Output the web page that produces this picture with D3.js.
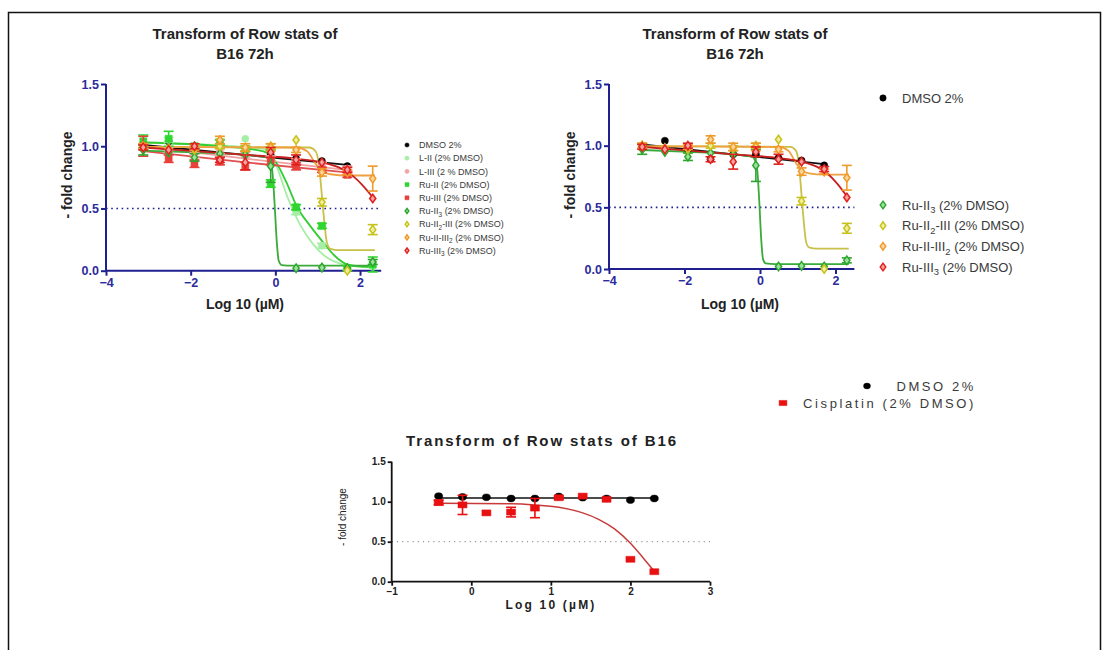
<!DOCTYPE html>
<html>
<head>
<meta charset="utf-8">
<script src="https://cdn.jsdelivr.net/npm/d3@7"></script>
<style>
  body { margin: 0; background: #fff; }
  svg { display: block; font-family: "Liberation Sans", Arial, sans-serif; }
</style>
</head>
<body>
<svg id="fig" width="1109" height="650"></svg>
<script>
// ---- concentrations, log10(µM) ----
const dose72 = [-3.12, -2.52, -1.91, -1.31, -0.71, -0.11, 0.49, 1.10, 1.70, 2.30];
const doseCis = [-0.41, -0.11, 0.19, 0.50, 0.80, 1.10, 1.40, 1.70, 2.00, 2.30];

// ---- B16 72h : mean fold change and SD ----
const dmsoMean  = [1.00, 1.04, 0.97, 0.89, 0.93, 0.93, 0.90, 0.88, 0.84];
const dmsoSD    = [0.01, 0.01, 0.01, 0.01, 0.01, 0.01, 0.01, 0.01, 0.01];
const lIIMean   = [1.00, 1.05, 1.00, 1.04, 1.06, 0.90, 0.47, 0.20, 0.02, 0.03];
const lIISD     = [0.02, 0.02, 0.02, 0.02, 0.01, 0.02, 0.02, 0.02, 0.01, 0.01];
const lIIIMean  = [1.00, 0.97, 0.93, 0.96, 0.93, 0.90, 0.88, 0.85, 0.82];
const lIIISD    = [0.02, 0.02, 0.02, 0.02, 0.02, 0.02, 0.02, 0.02, 0.02];
const ruIIMean  = [1.04, 1.06, 1.00, 1.03, 0.98, 0.70, 0.51, 0.36, 0.02, 0.05];
const ruIISD    = [0.05, 0.06, 0.02, 0.02, 0.02, 0.03, 0.02, 0.02, 0.02, 0.06];
const ruIIIMean = [1.00, 0.90, 0.86, 0.88, 0.84, 0.88, 0.84, 0.81, 0.77];
const ruIIISD   = [0.08, 0.03, 0.03, 0.03, 0.03, 0.03, 0.03, 0.02, 0.02];
const ruII3Mean = [0.97, 0.95, 0.91, 0.94, 0.93, 0.84, 0.02, 0.025, 0.02, 0.07];
const ruII3SD   = [0.04, 0.01, 0.03, 0.01, 0.01, 0.13, 0.01, 0.01, 0.01, 0.02];
const ruII2IIIMean = [1.00, 0.98, 0.97, 1.00, 0.98, 1.00, 1.05, 0.55, 0.00, 0.33];
const ruII2IIISD   = [0.02, 0.01, 0.01, 0.02, 0.02, 0.02, 0.01, 0.03, 0.01, 0.04];
const ruIIIII2Mean = [1.00, 0.98, 0.99, 1.05, 0.99, 0.99, 0.97, 0.79, 0.79, 0.74];
const ruIIIII2SD   = [0.02, 0.01, 0.02, 0.03, 0.03, 0.03, 0.02, 0.03, 0.02, 0.10];
const ruIII3Mean = [0.99, 0.97, 1.00, 0.89, 0.87, 0.95, 0.89, 0.87, 0.81, 0.58];
const ruIII3SD   = [0.02, 0.01, 0.02, 0.02, 0.06, 0.04, 0.04, 0.01, 0.02, 0.01];

// ---- fitted curves, [log10 µM, fold change] ----
const fitDmso   = [[-3.12, 1.01], [-0.7, 0.93], [1.7, 0.85]];
const fitLII    = [[-3.12, 1.03], [-0.3, 0.98], [0.0, 0.86], [0.3, 0.58], [0.6, 0.36], [0.9, 0.21], [1.2, 0.11], [1.6, 0.05], [2.0, 0.03], [2.3, 0.025]];
const fitLIII   = [[-3.12, 1.00], [-0.7, 0.90], [1.7, 0.81]];
const fitRuII   = [[-3.12, 1.03], [-1.3, 1.00], [-0.3, 0.96], [0.0, 0.88], [0.3, 0.68], [0.5, 0.52], [0.8, 0.37], [1.1, 0.24], [1.4, 0.12], [1.7, 0.05], [2.0, 0.035], [2.3, 0.03]];
const fitRuIII  = [[-3.12, 0.96], [-0.7, 0.87], [1.7, 0.79]];
const fitRuII3  = [[-3.12, 0.965], [-1.9, 0.95], [-0.7, 0.93], [-0.2, 0.91], [-0.08, 0.82], [-0.02, 0.55], [0.03, 0.25], [0.08, 0.08], [0.15, 0.045], [0.4, 0.04], [2.35, 0.04]];
const fitRuII2III = [[-3.12, 0.995], [0.8, 0.99], [0.95, 0.96], [1.03, 0.85], [1.1, 0.6], [1.16, 0.38], [1.22, 0.22], [1.3, 0.175], [1.5, 0.165], [2.35, 0.165]];
const fitRuIIIII2 = [[-3.12, 0.995], [0.5, 0.99], [0.75, 0.96], [0.95, 0.86], [1.1, 0.80], [1.3, 0.775], [1.7, 0.765], [2.35, 0.765]];
const fitRuIII3 = [[-3.12, 0.99], [-1.9, 0.96], [-0.7, 0.93], [0.5, 0.90], [1.1, 0.87], [1.5, 0.83], [1.8, 0.77], [2.05, 0.69], [2.3, 0.59]];

// ---- B16 cisplatin ----
const cisDmsoMean = [1.07, 1.06, 1.055, 1.04, 1.04, 1.065, 1.05, 1.04, 1.02, 1.04];
const cisMean = [0.99, 0.96, 0.86, 0.87, 0.92, 1.05, 1.07, 1.03, 0.28, 0.125];
const cisSD   = [0.03, 0.12, 0.01, 0.06, 0.12, 0.02, 0.01, 0.01, 0.01, 0.01];
const fitCisDmso = [[-0.41, 1.047], [2.30, 1.047]];
const fitCis = [[-0.41, 0.98], [0.5, 0.975], [0.8, 0.96], [1.1, 0.93], [1.4, 0.86], [1.6, 0.78], [1.8, 0.66], [2.0, 0.48], [2.15, 0.31], [2.3, 0.13]];

// ---- labels ----
const yTicks = [0, 0.5, 1.0, 1.5];
const xTicks72 = [-4, -2, 0, 2];
const xTicksCis = [-1, 0, 1, 2, 3];
const title72 = ["Transform of Row stats of", "B16 72h"];
const titleCis = "Transform of Row stats of B16";
const yLabel = "- fold change";
const xLabel = "Log 10 (\u00b5M)";

const names72 = ["DMSO 2%", "L-II (2% DMSO)", "L-III (2 % DMSO)", "Ru-II (2% DMSO)", "Ru-III (2% DMSO)",
                 "Ru-II_3 (2% DMSO)", "Ru-II_2-III (2% DMSO)", "Ru-II-III_2 (2% DMSO)", "Ru-III_3 (2% DMSO)"];
const namesCis = ["DMSO 2%", "Cisplatin (2% DMSO)"];

function mk(name, x, mean, sd, fit, shape, stroke, fill, line) {
  return { name, pts: mean.map((v, i) => ({ x: x[i], y: v, e: sd ? sd[i] : 0 })), fit, shape, stroke, fill, line };
}

const s72 = [
  mk(names72[0], dose72, dmsoMean, dmsoSD, fitDmso, "circle", "#000", "#000", "#111"),
  mk(names72[1], dose72, lIIMean, lIISD, fitLII, "circle", "#a6eea6", "#a6eea6", "#a6eea6"),
  mk(names72[2], dose72, lIIIMean, lIIISD, fitLIII, "circle", "#f3a3a3", "#f3a3a3", "#f0a0a0"),
  mk(names72[3], dose72, ruIIMean, ruIISD, fitRuII, "square", "#2fd62f", "#2fd62f", "#33cc33"),
  mk(names72[4], dose72, ruIIIMean, ruIIISD, fitRuIII, "square", "#e8403a", "#e8403a", "#e05050"),
  mk(names72[5], dose72, ruII3Mean, ruII3SD, fitRuII3, "diamond", "#2ea52e", "#9be39b", "#3aaa3a"),
  mk(names72[6], dose72, ruII2IIIMean, ruII2IIISD, fitRuII2III, "diamond", "#c6c21c", "#f2ee9a", "#c8c048"),
  mk(names72[7], dose72, ruIIIII2Mean, ruIIIII2SD, fitRuIIIII2, "diamond", "#f09a2a", "#fbd49a", "#f0a040"),
  mk(names72[8], dose72, ruIII3Mean, ruIII3SD, fitRuIII3, "diamond", "#e0201e", "#f6a0a0", "#c82020")
];
const s72b = [s72[0], s72[5], s72[6], s72[7], s72[8]];
const sCis = [
  mk(namesCis[0], doseCis, cisDmsoMean, null, fitCisDmso, "dot", "#000", "#000", "#111"),
  mk(namesCis[1], doseCis, cisMean, cisSD, fitCis, "bar", "#e81010", "#e81010", "#c83a3a")
];

const svg = d3.select("#fig");

// outer frame
svg.append("path").attr("d", "M8.5,660 V12.5 H1100.5 V660").attr("fill", "none").attr("stroke", "#111").attr("stroke-width", 1.5);

// marker outline for each shape; "dot" and "bar" are the wide marks of the cisplatin panel
function symbolPath(shape, size) {
  if (shape === "dot") { const r = Math.sqrt(size / Math.PI); return `M${-r * 1.2},0A${r * 1.2},${r} 0 1,0 ${r * 1.2},0A${r * 1.2},${r} 0 1,0 ${-r * 1.2},0Z`; }
  if (shape === "bar") { const h = Math.sqrt(size / 1.5) / 2; const w = h * 1.5; return `M${-w},${-h}H${w}V${h}H${-w}Z`; }
  if (shape === "diamond") { const h = Math.sqrt(size) * 0.62, w = h * 0.72; return `M0,${-h}L${w},0L0,${h}L${-w},0Z`; }
  const t = shape === "circle" ? d3.symbolCircle : d3.symbolSquare;
  return d3.symbol().type(t).size(size)();
}

// label text where "_n" is written as a subscript
function addLabel(sel, text, fs) {
  const parts = text.split(/_(\d)/);
  let shift = 0;
  parts.forEach((p, i) => {
    if (p === "") return;
    const sub = i % 2 === 1;
    const target = sub ? fs * 0.3 : 0;
    const ts = sel.append("tspan").text(p).attr("dy", target - shift);
    if (sub) ts.attr("font-size", fs * 0.72);
    shift = target;
  });
}

function panel(cfg) {
  const g = svg.append("g");
  const x = d3.scaleLinear().domain(cfg.xDom).range(cfg.xR);
  const y = d3.scaleLinear().domain([0, 1.5]).range(cfg.yR);

  // reference line at half response
  g.append("line").attr("x1", cfg.xR[0]).attr("x2", cfg.xR[1]).attr("y1", y(0.5)).attr("y2", y(0.5))
    .attr("stroke", cfg.refColor).attr("stroke-width", cfg.refW).attr("stroke-dasharray", cfg.refDash);

  // axes
  const yAx = g.append("g").attr("transform", `translate(${cfg.xR[0]},0)`)
    .call(d3.axisLeft(y).tickValues(yTicks).tickFormat(d3.format(".1f")).tickSize(cfg.tick).tickSizeOuter(0).tickPadding(2));
  const xAx = g.append("g").attr("transform", `translate(0,${cfg.yR[0]})`)
    .call(d3.axisBottom(x).tickValues(cfg.xTicks).tickFormat(d3.format("d")).tickSize(cfg.tick).tickSizeOuter(0).tickPadding(2));
  [yAx, xAx].forEach(a => {
    a.select(".domain").attr("stroke", cfg.axColor).attr("stroke-width", cfg.axW);
    a.selectAll(".tick line").attr("stroke", cfg.axColor).attr("stroke-width", cfg.axW);
    a.selectAll(".tick text").attr("fill", cfg.tickColor).attr("font-size", cfg.tickFs)
      .attr("font-weight", "bold").attr("font-family", "Liberation Sans, Arial, sans-serif");
  });
  yAx.select(".domain").attr("d", `M0,${cfg.yR[0]}V${cfg.yR[1]}`);
  xAx.select(".domain").attr("d", `M${cfg.xR[0]},0H${cfg.xR[1]}`);

  // titles
  const tt = g.append("text").attr("text-anchor", "middle").attr("font-weight", "bold")
    .attr("font-size", cfg.titleFs).attr("fill", "#222").attr("letter-spacing", cfg.titleLs || 0);
  cfg.title.forEach((t, i) => tt.append("tspan").attr("x", cfg.titleX).attr("y", cfg.titleY + i * cfg.titleLh).text(t));
  g.append("text").attr("text-anchor", "middle").attr("font-weight", "bold").attr("font-size", cfg.xlFs)
    .attr("letter-spacing", cfg.xlLs || 0).attr("fill", "#222")
    .attr("x", cfg.xlX).attr("y", cfg.xlY).text(xLabel);
  g.append("text").attr("text-anchor", "middle").attr("font-weight", cfg.ylW).attr("font-size", cfg.ylFs)
    .attr("fill", "#222").attr("transform", `translate(${cfg.ylX},${cfg.ylY}) rotate(-90)`).text(yLabel);

  const line = d3.line().x(d => x(d[0])).y(d => y(d[1])).curve(d3.curveMonotoneX);

  cfg.series.forEach(s => {
    g.append("path").attr("d", line(s.fit)).attr("fill", "none").attr("stroke", s.line).attr("stroke-width", cfg.lineW);
  });
  cfg.series.forEach(s => {
    const eb = g.append("g").attr("stroke", s.stroke).attr("stroke-width", cfg.ebW);
    s.pts.filter(p => p.e > 0.015).forEach(p => {
      const cx = x(p.x), y1 = y(p.y - p.e), y2 = y(p.y + p.e);
      eb.append("line").attr("x1", cx).attr("x2", cx).attr("y1", y1).attr("y2", y2);
      eb.append("line").attr("x1", cx - cfg.cap).attr("x2", cx + cfg.cap).attr("y1", y1).attr("y2", y1);
      eb.append("line").attr("x1", cx - cfg.cap).attr("x2", cx + cfg.cap).attr("y1", y2).attr("y2", y2);
    });
    g.append("g").selectAll("path").data(s.pts).join("path")
      .attr("d", symbolPath(s.shape, cfg.sym[s.shape]))
      .attr("transform", p => `translate(${x(p.x)},${y(p.y)})`)
      .attr("fill", s.fill).attr("stroke", s.stroke).attr("stroke-width", s.shape === "diamond" ? 1.5 : 0.5);
  });

  // legend
  const lg = cfg.legend;
  cfg.series.forEach((s, i) => {
    const ly = lg.ys[i];
    const mx = lg.mxs ? lg.mxs[i] : lg.mx;
    g.append("path").attr("d", symbolPath(s.shape, lg.sym[s.shape]))
      .attr("transform", `translate(${mx},${ly})`)
      .attr("fill", s.fill).attr("stroke", s.stroke).attr("stroke-width", s.shape === "diamond" ? 1.4 : 0.5);
    const t = g.append("text").attr("x", lg.tx).attr("y", ly + lg.fs * 0.35)
      .attr("font-size", lg.fs).attr("fill", "#3a3a3a").attr("letter-spacing", lg.ls || 0)
      .attr("text-anchor", lg.anchor || "start");
    addLabel(t, s.name, lg.fs);
  });
}

const navy = "#1f1f8f";
const common72 = {
  xDom: [-4, 2.5], xTicks: xTicks72, axColor: navy, axW: 2, tick: 5, tickColor: "#2b2b9c", tickFs: 12.5,
  refColor: navy, refW: 1.6, refDash: "1.6,3.6", titleFs: 15, titleLh: 20, titleY: 39,
  xlFs: 14, xlY: 309, ylFs: 14, ylW: "bold", lineW: 1.8, ebW: 1.6, cap: 5,
  sym: { circle: 40, square: 50, diamond: 48 }, title: title72
};

panel(Object.assign({}, common72, {
  xR: [106, 381.2], yR: [270.7, 84], titleX: 245, xlX: 245, ylX: 72, ylY: 175,
  series: s72,
  legend: { mx: 407, tx: 419, fs: 9, ys: d3.range(9).map(i => 145 + i * 13.2), sym: { circle: 14, square: 16, diamond: 18 } }
}));

panel(Object.assign({}, common72, {
  xR: [609, 854.4], yR: [269, 84], titleX: 735, xlX: 740, ylX: 575, ylY: 175,
  series: s72b,
  legend: { mx: 883, tx: 902, fs: 13, ys: [98, 205, 225.7, 246.3, 267], sym: { circle: 32, square: 36, diamond: 40 } }
}));

panel({
  xDom: [-1, 3], xTicks: xTicksCis, axColor: "#111", axW: 1.8, tick: 4, tickColor: "#222", tickFs: 10,
  refColor: "#999", refW: 1.2, refDash: "1.2,4", titleFs: 15, titleLh: 0, titleY: 446, titleLs: 1.9,
  title: [titleCis], titleX: 542,
  xlFs: 12, xlLs: 2.2, xlX: 551, xlY: 609, ylFs: 10, ylW: "normal", ylX: 346, ylY: 517,
  lineW: 1.5, ebW: 1.6, cap: 5,
  sym: { dot: 36, bar: 54 },
  xR: [391.7, 710], yR: [581.7, 461.7],
  series: sCis,
  legend: { mxs: [867, 783], tx: 976, fs: 13, ls: 2.6, anchor: "end", ys: [386, 403], sym: { dot: 26, bar: 40 } }
});
</script>
</body>
</html>
